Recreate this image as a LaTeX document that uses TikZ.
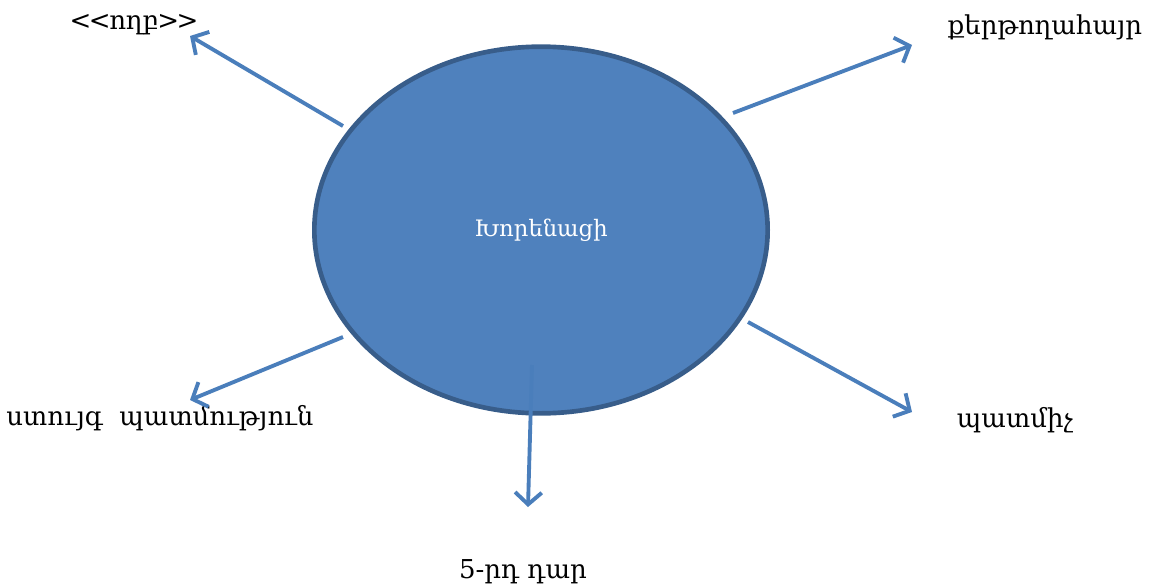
\documentclass[tikz,border=0pt]{standalone}
\usepackage{fontspec}
\setmainfont{DejaVu Serif}
\usepackage{xcolor}
\usetikzlibrary{arrows.meta, shapes.geometric}
\definecolor{fillblue}{HTML}{4F81BD}
\definecolor{rimblue}{HTML}{385D8A}
\definecolor{arrowblue}{HTML}{4A7EBB}
\tikzset{
  spoke/.style={arrowblue, line width=2.9pt, -{Straight Barb[length=9pt, width=20pt, line width=2.9pt]}},
  word/.style={font=\fontsize{19.5}{24}\selectfont, inner sep=0pt}
}
\begin{document}
\begin{tikzpicture}[x=0.75pt, y=-0.75pt]
\useasboundingbox (0,0) rectangle (1154,586);
\node[ellipse, draw=rimblue, fill=fillblue, line width=3.5pt, minimum width=340pt, minimum height=275pt, inner sep=0pt,
  text=white, font=\fontsize{17}{20}\selectfont] (K) at (541,230) {Խորենացի};
% labels
\node[word] (L1) at (134,25) {<\kern-2pt<\kern-1pt ողբ\kern-1pt>\kern-2pt>};
\node[word] (L2) at (1045,27) {քերթողահայր};
\node[word] (L3) at (160,418) {ստույգ\ \ պատմություն};
\node[word] (L4) at (1015,420) {պատմիչ};
\node[word] (L5) at (523,572) {5-րդ դար};
% arrow ends
\coordinate (s1) at (343,126); \coordinate (e1) at (190,36);
\coordinate (s2) at (733,113); \coordinate (e2) at (912,45);
\coordinate (s3) at (343,337); \coordinate (e3) at (190,400);
\coordinate (s4) at (748,322); \coordinate (e4) at (912,412);
\coordinate (s5) at (532,365); \coordinate (e5) at (528,507);
\draw[spoke] (s1) -- (e1);
\draw[spoke] (s2) -- (e2);
\draw[spoke] (s3) -- (e3);
\draw[spoke] (s4) -- (e4);
\draw[spoke] (s5) -- (e5);
\end{tikzpicture}
\end{document}
